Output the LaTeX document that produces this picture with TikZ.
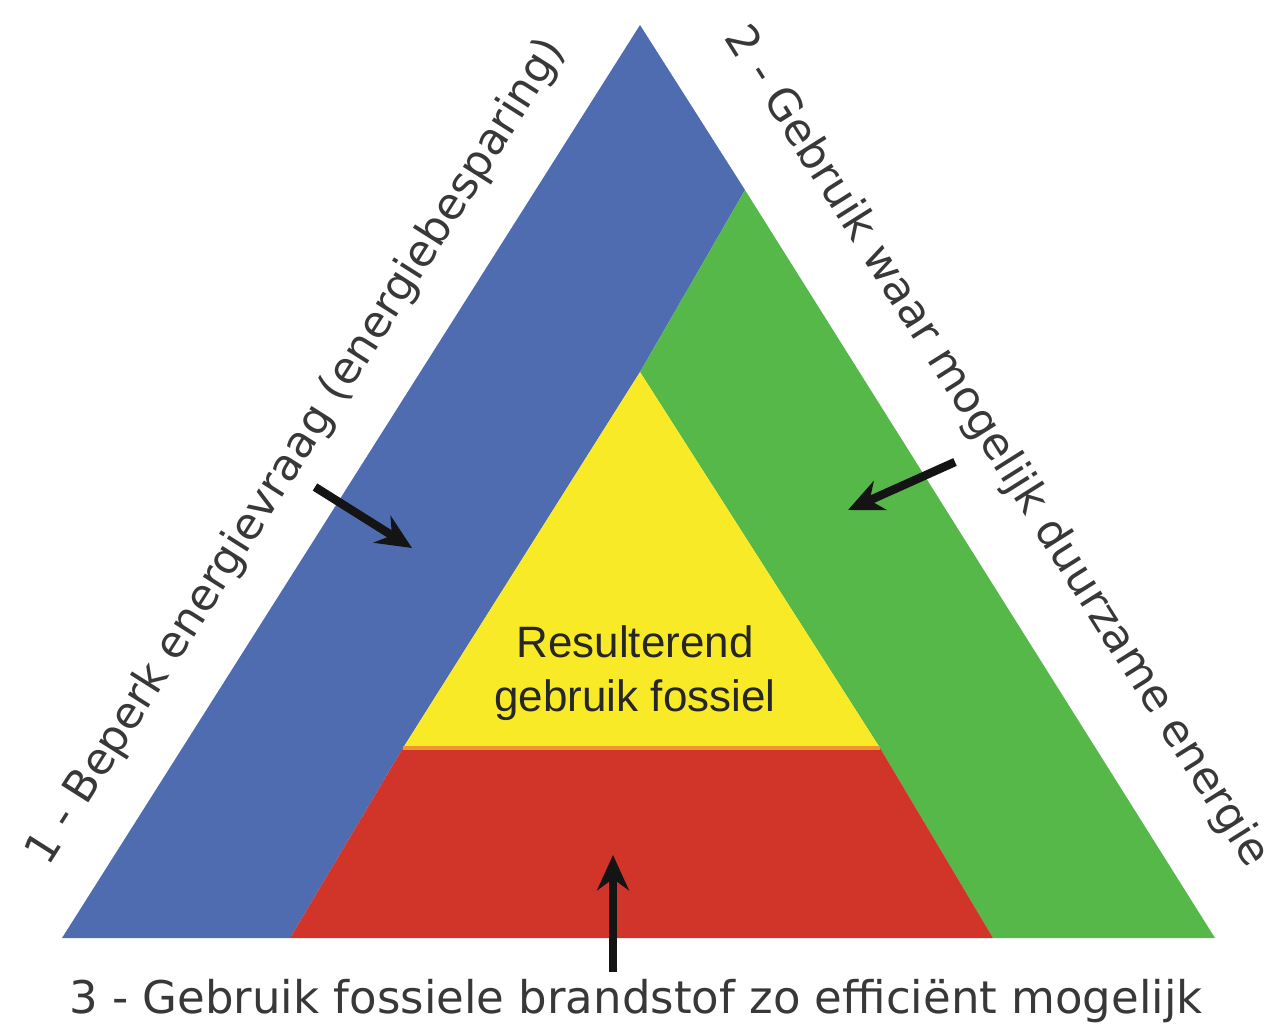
\documentclass[tikz,border=0pt]{standalone}
\usepackage{fontspec}
\setmainfont{DejaVu Sans}
\newfontfamily\arialfont{Liberation Sans}
\usepackage{xcolor}
\usetikzlibrary{arrows.meta,calc,positioning}

\definecolor{saveblue}{RGB}{79,108,176}
\definecolor{greengreen}{RGB}{85,184,73}
\definecolor{fossilyellow}{RGB}{248,234,38}
\definecolor{fossilred}{RGB}{209,52,40}
\definecolor{seamorange}{RGB}{240,150,45}

\begin{document}
\begin{tikzpicture}[x=0.01cm, y=-0.01cm, >={Stealth[length=10pt,width=9pt]},
		sidelabel/.style={font=\fontsize{12.5}{15}\selectfont, text=black!78, inner sep=0pt},
		pusharrow/.style={->, line width=2.4pt, black!92}]
		
		\useasboundingbox (0,0) rectangle (1271,1024);
		
		% =========================================================
		% Trias energetica: big triangle and its parts
		% =========================================================
		% Outer corners
		\coordinate (A) at (640,25);
		\coordinate (L) at (62,938);
		\coordinate (R) at (1215,938);
		
		% Split points
		\coordinate (G) at (745,190);
		\coordinate (Y) at (640,372);
		\coordinate (YL) at (403,748);
		\coordinate (YR) at (880,748);
		\coordinate (RL) at (290,938);
		\coordinate (RR) at (993,938);
		
		% Blue part
		\fill[saveblue] (A)--(G)--(Y)--(YL)--(RL)--(L)--cycle;
		% Green part
		\fill[greengreen] (G)--(R)--(RR)--(YR)--(Y)--cycle;
		% Yellow top
		\fill[fossilyellow] (Y)--(YR)--(YL)--cycle;
		% Red bottom
		\fill[fossilred] (YL)--(YR)--(RR)--(RL)--cycle;
		% Seam between yellow and red
		\draw[seamorange, line width=1.2pt] (YL)--(YR);
		
		% =========================================================
		% Labels
		% =========================================================
		\node[sidelabel, rotate=57.66] (demand) at (297,452)
		{1 - Beperk energievraag (energiebesparing)};
		\node[sidelabel, rotate=-57.8] (renew) at (996,447)
		{2 - Gebruik waar mogelijk duurzame energie};
		\node[sidelabel, font=\fontsize{12.8}{15}\selectfont, anchor=base] (fossil) at (636,1013)
		{3 - Gebruik fossiele brandstof zo efficiënt mogelijk};
		
		% Result in the middle
		\node[align=center, inner sep=0pt, text=black!85,
		font=\arialfont\fontsize{12.5}{15.3}\selectfont] (result) at (635,673)
		{Resulterend\\gebruik fossiel};
		
		% =========================================================
		% Arrows
		% =========================================================
		\coordinate (dtail) at (315,487);
		\coordinate (dtip) at (412,548);
		\coordinate (rtail) at (955,462);
		\coordinate (rtip) at (848,510);
		\coordinate (ftip) at (613,855);
		
		\draw[pusharrow] (dtail) -- (dtip);
		\draw[pusharrow] (rtail) -- (rtip);
		\draw[pusharrow] ($(fossil.north -| ftip)+(0,-6)$) -- (ftip);
		
	\end{tikzpicture}
\end{document}
